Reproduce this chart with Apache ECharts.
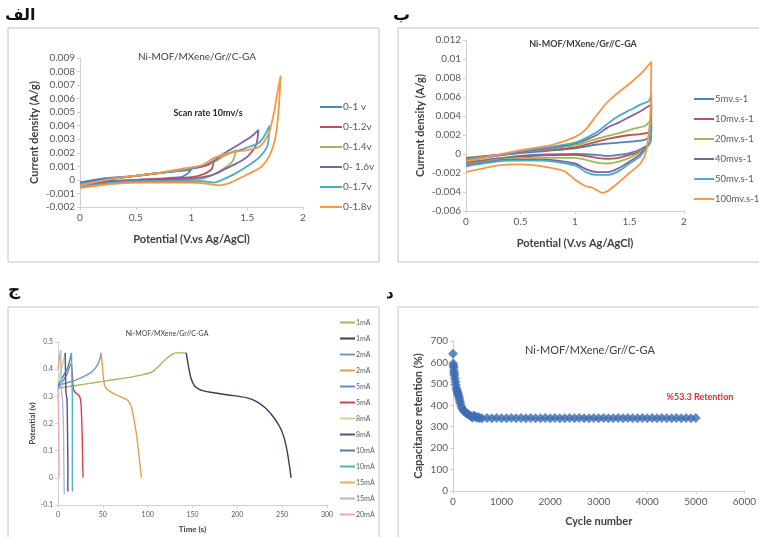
<!DOCTYPE html>
<html>
<head>
<meta charset="utf-8">
<script src="https://cdn.jsdelivr.net/npm/echarts@6/dist/echarts.min.js"></script>
<style>
  html, body { margin: 0; padding: 0; background: #fff; }
  #main { width: 759px; height: 537px; }
</style>
</head>
<body>
<div id="main"></div>
<script>
// ---- panel A : CV at different potential windows (10 mV/s)
var cvWindowNames = ['0-1 v', '0-1.2v', '0-1.4v', '0- 1.6v', '0-1.7v', '0-1.8v'];
var cv_0_10 = [[0,-0.0002],[0.2,0.0001],[0.5,0.0003],[0.8,0.0006],[0.95,0.0007],[1.0,0.0008],[0.97,0.0005],[0.9,0.0002],[0.7,0.0001],[0.5,0.0000],[0.2,-0.0001],[0,-0.0003]];
var cv_0_12 = [[0,-0.0002],[0.3,0.0001],[0.6,0.0004],[0.9,0.0007],[1.0,0.0009],[1.1,0.0010],[1.15,0.0011],[1.2,0.0014],[1.18,0.0008],[1.1,0.0004],[1.0,0.0002],[0.8,0.0001],[0.5,0.0000],[0.2,-0.0002],[0,-0.0004]];
var cv_0_14 = [[0,-0.0003],[0.3,0.0001],[0.6,0.0004],[0.9,0.0007],[1.1,0.0010],[1.2,0.0013],[1.3,0.0018],[1.35,0.0020],[1.4,0.0022],[1.37,0.0014],[1.3,0.0009],[1.2,0.0004],[1.1,0.0001],[1.0,0.0000],[0.8,-0.0001],[0.5,-0.0001],[0.2,-0.0003],[0,-0.0005]];
var cv_0_16 = [[0,-0.0002],[0.3,0.0001],[0.6,0.0004],[0.9,0.0007],[1.1,0.0010],[1.2,0.0014],[1.3,0.0020],[1.4,0.0025],[1.5,0.0030],[1.55,0.0033],[1.6,0.0037],[1.58,0.0026],[1.5,0.0017],[1.4,0.0012],[1.3,0.0008],[1.2,0.0004],[1.1,0.0002],[1.0,0.0001],[0.7,0.0000],[0.4,-0.0001],[0,-0.0004]];
var cv_0_17 = [[0,-0.0003],[0.3,0.0001],[0.6,0.0004],[0.9,0.0007],[1.1,0.0011],[1.2,0.0016],[1.3,0.0019],[1.4,0.0021],[1.5,0.0024],[1.6,0.0027],[1.65,0.0032],[1.7,0.0040],[1.68,0.0025],[1.6,0.0016],[1.5,0.0010],[1.4,0.0005],[1.3,0.0001],[1.2,-0.0002],[1.1,-0.0001],[1.0,-0.0001],[0.6,-0.0001],[0.3,-0.0002],[0,-0.0005]];
var cv_0_18 = [[0,-0.0004],[0.3,0.0001],[0.6,0.0004],[0.9,0.0008],[1.1,0.0011],[1.2,0.0016],[1.3,0.0019],[1.4,0.0021],[1.5,0.0022],[1.6,0.0024],[1.65,0.0028],[1.7,0.0036],[1.74,0.0050],[1.77,0.0064],[1.8,0.0077],[1.78,0.0050],[1.75,0.0030],[1.7,0.0018],[1.63,0.0010],[1.55,0.0006],[1.45,0.0002],[1.35,-0.0002],[1.25,-0.0004],[1.15,-0.0003],[1.0,-0.0002],[0.6,-0.0002],[0.3,-0.0003],[0,-0.0006]];

// ---- panel B : CV at different scan rates
var cvRateNames = ['5mv.s-1', '10mv.s-1', '20mv.s-1', '40mvs-1', '50mv.s-1', '100mv.s-1'];
var cv_5 = [[0,-0.0004],[0.5,0.0001],[1.0,0.0006],[1.2,0.0010],[1.4,0.0012],[1.6,0.0014],[1.68,0.0018],[1.7,0.0030],[1.69,0.0012],[1.6,0.0005],[1.5,0.0001],[1.4,-0.0001],[1.3,-0.0002],[1.2,-0.0001],[1.0,0.0000],[0.5,-0.0002],[0,-0.0009]];
var cv_10 = [[0,-0.0005],[0.5,0.0002],[1.0,0.0007],[1.2,0.0013],[1.3,0.0016],[1.5,0.0020],[1.6,0.0021],[1.68,0.0023],[1.7,0.0033],[1.69,0.0012],[1.6,0.0003],[1.5,-0.0001],[1.4,-0.0004],[1.3,-0.0005],[1.2,-0.0004],[1.0,-0.0001],[0.5,-0.0003],[0,-0.0010]];
var cv_20 = [[0,-0.0006],[0.5,0.0002],[1.0,0.0009],[1.2,0.0016],[1.4,0.0022],[1.55,0.0027],[1.65,0.0030],[1.7,0.0037],[1.69,0.0012],[1.6,0.0002],[1.5,-0.0004],[1.4,-0.0008],[1.3,-0.0010],[1.2,-0.0009],[1.0,-0.0004],[0.5,-0.0004],[0,-0.0011]];
var cv_40 = [[0,-0.0007],[0.5,0.0002],[1.0,0.0011],[1.2,0.0020],[1.3,0.0028],[1.4,0.0033],[1.5,0.0039],[1.6,0.0045],[1.7,0.0052],[1.69,0.0015],[1.6,0.0000],[1.5,-0.0008],[1.4,-0.0015],[1.3,-0.0019],[1.2,-0.0019],[1.1,-0.0016],[1.0,-0.0010],[0.7,-0.0006],[0.4,-0.0006],[0,-0.0012]];
var cv_50 = [[0,-0.0007],[0.5,0.0003],[1.0,0.0012],[1.2,0.0023],[1.3,0.0032],[1.4,0.0040],[1.5,0.0046],[1.6,0.0052],[1.68,0.0056],[1.7,0.0064],[1.69,0.0015],[1.6,-0.0002],[1.5,-0.0010],[1.4,-0.0018],[1.3,-0.0022],[1.2,-0.0022],[1.1,-0.0019],[1.0,-0.0012],[0.7,-0.0007],[0.4,-0.0007],[0,-0.0013]];
var cv_100 = [[0,-0.0008],[0.5,0.0004],[0.8,0.0010],[1.0,0.0018],[1.1,0.0026],[1.2,0.0041],[1.3,0.0055],[1.4,0.0065],[1.5,0.0074],[1.6,0.0084],[1.7,0.0097],[1.69,0.0040],[1.65,0.0002],[1.6,-0.0010],[1.5,-0.0020],[1.4,-0.0030],[1.3,-0.0039],[1.25,-0.0041],[1.2,-0.0038],[1.15,-0.0035],[1.1,-0.0034],[1.0,-0.0027],[0.9,-0.0018],[0.7,-0.0013],[0.5,-0.0011],[0.3,-0.0012],[0,-0.0019]];

// ---- panel C : charge / discharge curves
var gcdNames = ['1mA c','1mA d','2mA c','2mA d','5mA c','5mA d','8mA c','8mA d','10mA c','10mA d','15mA c','15mA d','20mA d'];
var gcd_1c = [[0,0.33],[20,0.34],[40,0.35],[60,0.36],[80,0.37],[95,0.38],[105,0.39],[112,0.41],[118,0.43],[125,0.45],[132,0.46],[143,0.46]];
var gcd_1d = [[143,0.46],[145,0.42],[148,0.37],[152,0.34],[158,0.325],[170,0.315],[190,0.305],[210,0.295],[222,0.28],[232,0.255],[240,0.225],[247,0.19],[252,0.15],[256,0.09],[260,0]];
var gcd_2c = [[0,0.34],[10,0.35],[20,0.36],[30,0.375],[38,0.39],[43,0.41],[46,0.43],[48,0.46]];
var gcd_2d = [[48,0.46],[49,0.43],[50,0.39],[52,0.34],[55,0.325],[62,0.31],[72,0.295],[78,0.285],[82,0.26],[85,0.21],[88,0.15],[90,0.09],[92,0.03],[93,0]];
var gcd_5c = [[0,0.33],[4,0.35],[8,0.37],[11,0.39],[13,0.41],[15,0.42]];
var gcd_5d = [[15,0.42],[16,0.38],[17,0.33],[19,0.315],[23,0.305],[25,0.29],[26,0.25],[27,0.15],[27.5,0.05],[28,0]];
var gcd_8c = [[0,0.35],[3,0.39],[6,0.43],[8,0.46]];
var gcd_8d = [[8,0.46],[8.5,0.36],[9,0.31],[10,0.29],[10.5,0.2],[11,0.05],[11,-0.05]];
var gcd_10c = [[0,0.34],[5,0.37],[10,0.40],[13,0.43],[15,0.46]];
var gcd_10d = [[15,0.46],[15.5,0.36],[16,0.30],[16,0.1],[16,-0.05]];
var gcd_15c = [[0,0.40],[1.5,0.44],[3,0.47]];
var gcd_15d = [[3,0.47],[3.5,0.36],[4,0.31],[5,0.29],[6,0.2],[6.5,0.05],[7,-0.06]];
var gcd_20d = [[0,0.33],[0.5,0.25],[1,0.1],[1.2,0]];

// ---- panel D : cycling stability
var cycleNumbers = [0,5,10,15,20,25,30,40,50,60,70,80,90,100,110,120,130,140,150,170,190,210,230,250,280,310,340,370,400,430,460,490,520,550,600,
  700,800,900,1000,1100,1200,1300,1400,1500,1600,1700,1800,1900,2000,2100,2200,2300,2400,2500,2600,2700,2800,2900,3000,
  3100,3200,3300,3400,3500,3600,3700,3800,3900,4000,4100,4200,4300,4400,4500,4600,4700,4800,4900,5000];
var retention = [640,595,585,575,560,550,540,525,510,495,480,470,462,455,448,440,430,420,410,395,385,378,372,368,362,358,354,350,342,352,348,342,345,340,340,
  341,340,341,340,340,341,340,341,340,341,340,340,341,340,341,340,340,341,340,341,340,340,341,340,
  341,340,340,341,340,341,340,340,341,340,341,340,341,340,340,341,340,341,340,341];

var FONT = 'Lato, "Liberation Sans", sans-serif';
var AR_FONT = '"DejaVu Sans", sans-serif';
var excel = ['#4F81BD', '#C0504D', '#9BBB59', '#8064A2', '#4BACC6', '#F79646'];
var gcdColors = ['#A5B85C','#3B3B5C','#6E9BC8','#E0A050','#5B8BD9','#D9404A','#C6D98F','#5F4B8B','#4A7EA8','#4BB5C1','#F2A65A','#A9BCD6','#F2A7B8'];

function lines(data, names, colors, xi, yi, width) {
  return data.map(function (d, i) {
    return {
      name: names[i], type: 'line', data: d, xAxisIndex: xi, yAxisIndex: yi,
      showSymbol: false, symbol: 'none', smooth: 0.25,
      lineStyle: { width: width, color: colors[i] }, itemStyle: { color: colors[i] },
      animation: false
    };
  });
}
function dec(n) { return function (v) { return String(parseFloat(v.toFixed(n))); }; }
function plain(v) { return String(v); }

var axisTick = { show: true, length: 3, lineStyle: { color: '#d0d0d0' } };
function xAx(grid, min, max, step, name, fs, gap, fmt) {
  return { type: 'value', gridIndex: grid, min: min, max: max, interval: step,
    name: name, nameLocation: 'middle', nameGap: gap,
    nameTextStyle: { fontFamily: FONT, fontWeight: 'bold', fontSize: fs + 1, color: '#404040' },
    axisLine: { onZero: false, lineStyle: { color: '#d0d0d0' } }, axisTick: axisTick, splitLine: { show: false },
    axisLabel: { fontFamily: FONT, fontSize: fs, color: '#595959', margin: 6, formatter: fmt || plain } };
}
function yAx(grid, min, max, step, name, fs, gap, fmt) {
  return { type: 'value', gridIndex: grid, min: min, max: max, interval: step,
    name: name, nameLocation: 'middle', nameGap: gap, nameRotate: 90,
    nameTextStyle: { fontFamily: FONT, fontWeight: 'bold', fontSize: fs + 1, color: '#404040' },
    axisLine: { show: true, onZero: false, lineStyle: { color: '#d0d0d0' } }, axisTick: axisTick, splitLine: { show: false },
    axisLabel: { fontFamily: FONT, fontSize: fs, color: '#595959', margin: 5, formatter: fmt || plain } };
}
function legend(names, left, top, gap, fs, w, fmt) {
  return { data: names, orient: 'vertical', left: left, top: top, itemGap: gap,
    icon: 'rect', itemWidth: w, itemHeight: 2, selectedMode: false,
    textStyle: { fontFamily: FONT, fontSize: fs, color: '#595959', padding: [0, 0, 0, -4] },
    formatter: fmt };
}
function txt(x, y, s, size, opts) {
  opts = opts || {};
  return { type: 'text', x: x, y: y, silent: true,
    style: { text: s, fontFamily: opts.font || FONT, fontSize: size, fontWeight: opts.bold ? 'bold' : 'normal',
      fill: opts.color || '#404040', align: opts.align || 'center', verticalAlign: 'middle' } };
}
function box(x, y, w, h) {
  return { type: 'rect', shape: { x: x, y: y, width: w, height: h }, silent: true,
    style: { fill: 'none', stroke: '#c4c4c4', lineWidth: 1 } };
}

var chart = echarts.init(document.getElementById('main'));
var option = {
  backgroundColor: '#fff',
  animation: false,
  grid: [
    { left: 80, top: 58, width: 223, height: 149 },
    { left: 466, top: 40, width: 218, height: 171 },
    { left: 58, top: 342, width: 269, height: 163 },
    { left: 453, top: 341, width: 293, height: 150 }
  ],
  xAxis: [
    xAx(0, 0, 2, 0.5, 'Potential (V.vs Ag/AgCl)', 10, 27),
    xAx(1, 0, 2, 0.5, 'Potential (V.vs Ag/AgCl)', 10, 27),
    xAx(2, 0, 300, 50, 'Time (s)', 7, 20),
    xAx(3, 0, 6000, 1000, 'Cycle number', 10, 25)
  ],
  yAxis: [
    yAx(0, -0.002, 0.009, 0.001, 'Current density (A/g)', 10, 40, dec(3)),
    yAx(1, -0.006, 0.012, 0.002, 'Current density (A/g)', 10, 40, dec(3)),
    yAx(2, -0.1, 0.5, 0.1, 'Potential (v)', 7, 18, dec(1)),
    yAx(3, 0, 700, 100, 'Capacitance retention (%)', 10, 29)
  ],
  legend: [
    legend(cvWindowNames, 315, 97, 10, 10, 22),
    legend(cvRateNames, 689, 89, 10, 9.5, 20),
    legend(gcdNames, 335, 314, 9, 7, 15, function (n) { return n.split(' ')[0]; })
  ],
  series: [].concat(
    lines([cv_0_10, cv_0_12, cv_0_14, cv_0_16, cv_0_17, cv_0_18], cvWindowNames, excel, 0, 0, 1.8),
    lines([cv_5, cv_10, cv_20, cv_40, cv_50, cv_100], cvRateNames, excel, 1, 1, 1.8),
    lines([gcd_1c, gcd_1d, gcd_2c, gcd_2d, gcd_5c, gcd_5d, gcd_8c, gcd_8d, gcd_10c, gcd_10d, gcd_15c, gcd_15d, gcd_20d], gcdNames, gcdColors, 2, 2, 1.4),
    [{
      name: 'retention', type: 'scatter', xAxisIndex: 3, yAxisIndex: 3,
      data: cycleNumbers.map(function (c, i) { return [c, retention[i]]; }),
      symbol: 'diamond', symbolSize: 10, itemStyle: { color: '#3F6DB3' }, animation: false
    }]
  ),
  graphic: [
    box(8, 28, 371, 234), box(398, 28, 365, 234),
    box(8, 307, 371, 235), box(398, 307, 365, 235),
    txt(5, 16, 'الف', 16, { bold: true, align: 'left', color: '#111', font: AR_FONT }),
    txt(393, 16, 'ب', 17, { bold: true, align: 'left', color: '#111', font: AR_FONT }),
    txt(8, 291, 'ج', 17, { bold: true, align: 'left', color: '#111', font: AR_FONT }),
    txt(386, 294, 'د', 15, { bold: true, align: 'left', color: '#111', font: AR_FONT }),
    txt(197, 57, 'Ni-MOF/MXene/Gr//C-GA', 10, { color: '#404040' }),
    txt(583, 44, 'Ni-MOF/MXene/Gr//C-GA', 9, { bold: true, color: '#404040' }),
    txt(167, 334, 'Ni-MOF/MXene/Gr//C-GA', 7, { color: '#404040' }),
    txt(590, 350, 'Ni-MOF/MXene/Gr//C-GA', 11, { color: '#404040' }),
    txt(208, 113, 'Scan rate 10mv/s', 9, { bold: true, color: '#262626' }),
    txt(700, 397, '%53.3 Retention', 9, { bold: true, color: '#E0302E' })
  ]
};
chart.setOption(option);
</script>
</body>
</html>
